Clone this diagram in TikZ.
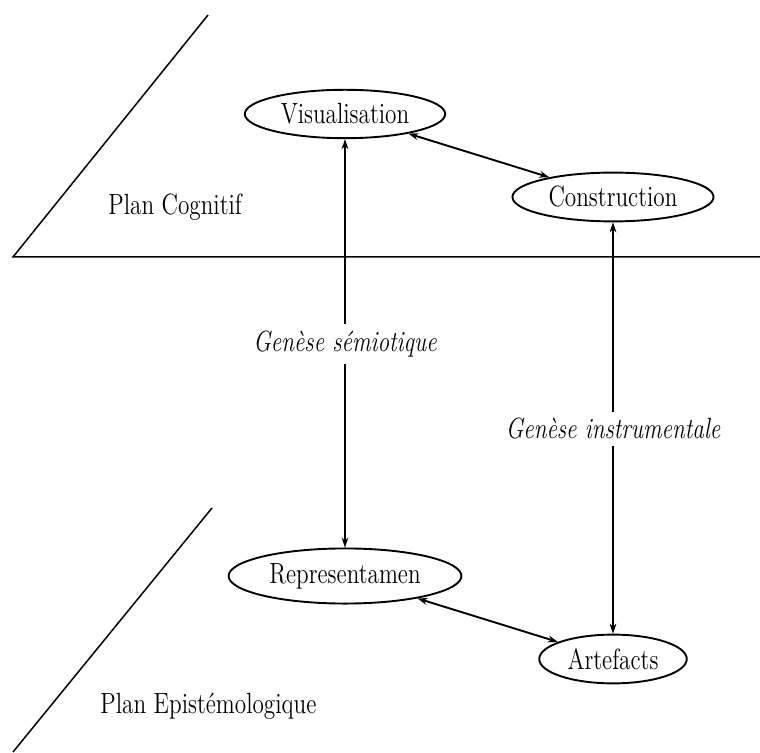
\documentclass[tikz,border=0pt]{standalone}
\usepackage{graphicx}
\usetikzlibrary{arrows.meta,shapes.geometric}
% text is set slightly taller than wide
\newcommand{\tallt}[1]{\scalebox{1}[1.26]{#1}}
\begin{document}
\begin{tikzpicture}[x=0.5pt,y=-0.5pt,
  every node/.style={font=\fontsize{11.6}{14}\selectfont},
  concept/.style={ellipse,draw,line width=0.95pt},
  planlabel/.style={anchor=base west,inner sep=0pt},
  genese/.style={fill=white,font=\fontsize{11.6}{14}\selectfont\itshape},
  tip/.style={{Stealth[length=5pt,width=3.4pt]}-{Stealth[length=5pt,width=3.4pt]}},
  vlink/.style={tip,line width=0.7pt},
  dlink/.style={tip,line width=0.95pt},
  plane/.style={line width=0.75pt}]
\useasboundingbox (0,0) rectangle (760,753);

% plane boundaries
\coordinate (h0) at (13,257);
\coordinate (h1) at (760,257);
\coordinate (t1) at (208,15);
\coordinate (b0) at (13,752);
\coordinate (b1) at (212,508);
\draw[plane] (t1) -- (h0) -- (h1);
\draw[plane] (b0) -- (b1);

% plane names
\node[planlabel] (cog) at (108,215) {\tallt{Plan Cognitif}};
\node[planlabel] (epi) at (100,713) {\tallt{Plan Epist\'emologique}};

% concepts
\node[concept] (vis)  at (345,114) {\tallt{Visualisation}};
\node[concept] (cons) at (613,197) {\tallt{Construction}};
\node[concept] (rep)  at (345,576) {\tallt{Representamen}};
\node[concept] (art)  at (613,659) {\tallt{Artefacts}};

% links
\draw[dlink] (vis) -- (cons);
\draw[dlink] (rep) -- (art);
\draw[vlink] (rep.north) -- (vis.south);
\draw[vlink] (art.north) -- (cons.south);

% genesis labels over the vertical links
\node[genese] (gs) at (345,344) {\tallt{Gen\`ese s\'emiotique}};
\node[genese] (gi) at (613,429) {\tallt{Gen\`ese instrumentale}};
\end{tikzpicture}
\end{document}
